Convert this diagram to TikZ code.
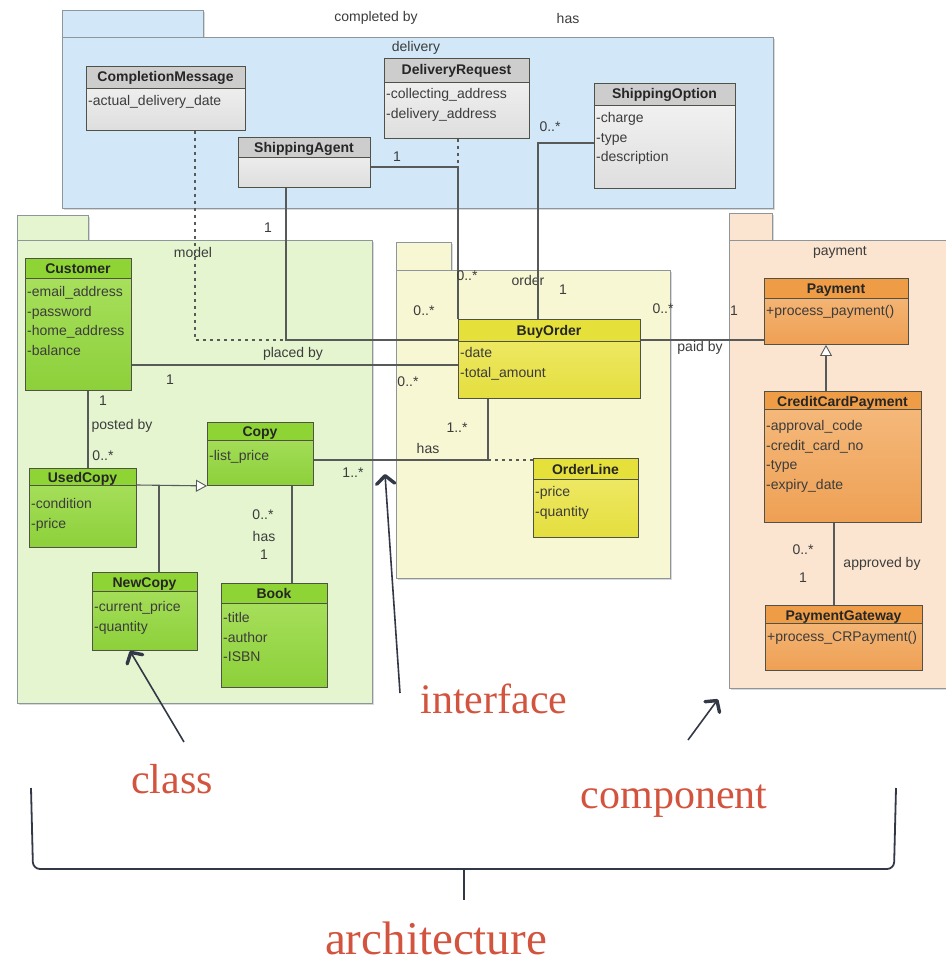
\documentclass[tikz,border=0pt]{standalone}
\usepackage{fontspec}
\setmainfont{Liberation Sans}
\newfontfamily\notefont{Liberation Serif}
\usetikzlibrary{arrows.meta,shadows}

\definecolor{pkgblue}{RGB}{210,232,248}
\definecolor{pkggreen}{RGB}{228,245,208}
\definecolor{pkgyellow}{RGB}{248,247,212}
\definecolor{pkgorange}{RGB}{251,229,208}
\definecolor{pkgline}{RGB}{140,150,155}
\definecolor{clsline}{RGB}{80,82,72}
\definecolor{greytop}{RGB}{246,246,246}
\definecolor{greybot}{RGB}{222,222,222}
\definecolor{greyhead}{RGB}{205,205,205}
\definecolor{greentop}{RGB}{172,226,98}
\definecolor{greenbot}{RGB}{140,208,58}
\definecolor{greenhead}{RGB}{142,212,52}
\definecolor{yellowtop}{RGB}{241,236,112}
\definecolor{yellowbot}{RGB}{228,222,62}
\definecolor{yellowhead}{RGB}{230,224,58}
\definecolor{orangetop}{RGB}{246,188,128}
\definecolor{orangebot}{RGB}{238,160,84}
\definecolor{orangehead}{RGB}{238,156,70}
\definecolor{linegrey}{RGB}{88,90,90}
\definecolor{txtgrey}{RGB}{60,60,60}
\definecolor{navy}{RGB}{50,56,70}
\definecolor{notered}{RGB}{211,84,62}

\tikzset{
  pkg/.style={draw=pkgline, line width=1.2pt, fill=#1, anchor=north west, inner sep=0pt,
    drop shadow={shadow xshift=1.5pt, shadow yshift=-1.5pt, opacity=0.3}},
  cls/.style n args={4}{draw=clsline, line width=0.9pt, anchor=north west, inner sep=0pt,
    top color=#1, bottom color=#2,
    path picture={\fill[#3] (path picture bounding box.north west) rectangle ([yshift=-#4]path picture bounding box.north east);
      \draw[clsline, line width=0.9pt] ([yshift=-#4]path picture bounding box.north west) -- ([yshift=-#4]path picture bounding box.north east);}},
  greycls/.style={cls={greytop}{greybot}{greyhead}{#1}},
  greencls/.style={cls={greentop}{greenbot}{greenhead}{#1}},
  yellowcls/.style={cls={yellowtop}{yellowbot}{yellowhead}{#1}},
  orangecls/.style={cls={orangetop}{orangebot}{orangehead}{#1}},
  clstitle/.style={font=\bfseries\fontsize{14}{16}\selectfont, text=black!85, inner sep=0pt, text height=10pt, text depth=0pt},
  attrs/.style={font=\fontsize{14}{19.7}\selectfont, text=txtgrey, align=left, anchor=north west, inner sep=0pt},
  lbl/.style={font=\fontsize{14}{16}\selectfont, text=txtgrey, inner sep=0pt},
  pkgname/.style={lbl},
  assoc/.style={draw=linegrey, line width=1.1pt},
  assocdash/.style={assoc, dash pattern=on 3pt off 4pt},
  inherit/.style={assoc, -{Triangle[length=11pt, width=12pt, fill=white, line width=0.9pt]}},
  pointer/.style={draw=navy, line width=1.6pt, -{Straight Barb[length=8pt, width=18pt, line width=3.4pt, round]}},
  bracket/.style={draw=navy, line width=1.8pt, rounded corners=7pt},
  note/.style={font=\notefont\fontsize{42}{42}\selectfont, text=notered, anchor=base, inner sep=0pt},
}

\begin{document}
\begin{tikzpicture}[x=1pt,y=1pt,yscale=-1]
\useasboundingbox (0,0) rectangle (945,963);

%Shape: Package delivery
\node [pkg=pkgblue, minimum width=141pt, minimum height=27pt] (deliverytab) at (62,10) {};
\node [pkg=pkgblue, minimum width=711pt, minimum height=171pt] (delivery) at (62,37) {};
%Shape: Package model
\node [pkg=pkggreen, minimum width=71pt, minimum height=25pt] (modeltab) at (17,215) {};
\node [pkg=pkggreen, minimum width=355pt, minimum height=463pt] (model) at (17,240) {};
%Shape: Package order
\node [pkg=pkgyellow, minimum width=55pt, minimum height=28pt] (ordertab) at (396,242) {};
\node [pkg=pkgyellow, minimum width=274pt, minimum height=308pt] (order) at (396,270) {};
%Shape: Package payment
\node [pkg=pkgorange, minimum width=43pt, minimum height=27pt] (paymenttab) at (729,213) {};
\node [pkg=pkgorange, minimum width=225pt, minimum height=448pt] (paymentpkg) at (729,240) {};

% Text Node
\node [pkgname] (deliveryname) at (416,48) {delivery};
\node [pkgname] (modelname) at (193,252) {model};
\node [pkgname] (ordername) at (528,280) {order};
\node [pkgname] (paymentname) at (840,252) {payment};

%Shape: Class boxes
\node [greycls=22pt, minimum width=159pt, minimum height=64pt] (compmsg) at (86,66) {};
\node [greycls=20pt, minimum width=132pt, minimum height=50pt] (agent) at (238,137) {};
\node [greycls=24pt, minimum width=145pt, minimum height=80pt] (delreq) at (384,58) {};
\node [greycls=22pt, minimum width=141pt, minimum height=105pt] (shipopt) at (594,83) {};
\node [greencls=20pt, minimum width=106pt, minimum height=132pt] (customer) at (25,258) {};
\node [greencls=18pt, minimum width=106pt, minimum height=63pt] (copy) at (207,422) {};
\node [greencls=17pt, minimum width=107pt, minimum height=79pt] (usedcopy) at (29,468) {};
\node [greencls=19pt, minimum width=105pt, minimum height=78pt] (newcopy) at (92,572) {};
\node [greencls=20pt, minimum width=106pt, minimum height=104pt] (book) at (221,583) {};
\node [yellowcls=22pt, minimum width=182pt, minimum height=79pt] (buyorder) at (458,319) {};
\node [yellowcls=21pt, minimum width=105pt, minimum height=79pt] (orderline) at (533,458) {};
\node [orangecls=20pt, minimum width=144pt, minimum height=66pt] (payment) at (764,278) {};
\node [orangecls=18pt, minimum width=157pt, minimum height=131pt] (ccpay) at (764,391) {};
\node [orangecls=18pt, minimum width=157pt, minimum height=65pt] (gateway) at (765,605) {};

% Text Node: class names
\node [clstitle] (compmsg-name) at (165.5,77) {CompletionMessage};
\node [clstitle] (agent-name) at (304,147) {ShippingAgent};
\node [clstitle] (delreq-name) at (456.5,70) {DeliveryRequest};
\node [clstitle] (shipopt-name) at (664.5,94) {ShippingOption};
\node [clstitle] (customer-name) at (78,268) {Customer};
\node [clstitle] (copy-name) at (260,431) {Copy};
\node [clstitle] (usedcopy-name) at (82.5,477) {UsedCopy};
\node [clstitle] (newcopy-name) at (144.5,582) {NewCopy};
\node [clstitle] (book-name) at (274,593) {Book};
\node [clstitle] (buyorder-name) at (549,330) {BuyOrder};
\node [clstitle] (orderline-name) at (585.5,469) {OrderLine};
\node [clstitle] (payment-name) at (836,288) {Payment};
\node [clstitle] (ccpay-name) at (842.5,401) {CreditCardPayment};
\node [clstitle] (gateway-name) at (843.5,615) {PaymentGateway};

% Text Node: attributes
\node [attrs] (compmsg-attr) at (88,95) {-actual\_delivery\_date};
\node [attrs] (delreq-attr) at (386,88) {-collecting\_address\\-delivery\_address};
\node [attrs] (shipopt-attr) at (596,112) {-charge\\-type\\-description};
\node [attrs] (customer-attr) at (27,286) {-email\_address\\-password\\-home\_address\\-balance};
\node [attrs] (copy-attr) at (209,450) {-list\_price};
\node [attrs] (usedcopy-attr) at (31,498) {-condition\\-price};
\node [attrs] (newcopy-attr) at (94,601) {-current\_price\\-quantity};
\node [attrs] (book-attr) at (223,612) {-title\\-author\\-ISBN};
\node [attrs] (buyorder-attr) at (460,347) {-date\\-total\_amount};
\node [attrs] (orderline-attr) at (535,486) {-price\\-quantity};
\node [attrs] (payment-attr) at (766,305) {+process\_payment()};
\node [attrs] (ccpay-attr) at (766,420) {-approval\_code\\-credit\_card\_no\\-type\\-expiry\_date};
\node [attrs] (gateway-attr) at (767,631) {+process\_CRPayment()};

%Straight Lines: associations
\coordinate (agentbend) at (286,340);
\draw [assoc] (agent.south -| agentbend) |- (buyorder.west |- agentbend);
\draw [assocdash] (compmsg.south -| 195,0) |- (agentbend);
\coordinate (reqjoin) at (458,167);
\draw [assoc] (agent.east |- reqjoin) -| (buyorder.north west);
\draw [assocdash] (delreq.south -| reqjoin) -- (reqjoin);
\coordinate (optbend) at (538,143);
\draw [assoc] (shipopt.west |- optbend) -| (buyorder.north -| optbend);
\coordinate (placedy) at (0,365);
\draw [assoc] (customer.east |- placedy) -- (buyorder.west |- placedy);
\draw [assoc] (customer.south -| 88,0) -- (usedcopy.north -| 88,0);
\coordinate (genjoin) at (159,485);
\draw [inherit] (usedcopy.east |- genjoin) -- (copy.south west);
\draw [assoc] (newcopy.north -| genjoin) -- (genjoin);
\draw [assoc] (copy.south -| 292,0) -- (book.north -| 292,0);
\coordinate (linejoin) at (488,460);
\draw [assoc] (copy.east |- linejoin) -| (buyorder.south -| linejoin);
\draw [assocdash] (linejoin) -- (orderline.west |- linejoin);
\coordinate (paidy) at (0,340);
\draw [assoc] (buyorder.east |- paidy) -- (payment.west |- paidy);
\draw [inherit] (ccpay.north -| 826,0) -- (payment.south -| 826,0);
\draw [assoc] (ccpay.south -| 834,0) -- (gateway.north -| 834,0);

% Text Node: roles and multiplicities
\node [lbl] (completedby) at (376,18) {completed by};
\node [lbl] (hasoption) at (568,18) {has};
\node [lbl] (agentone) at (397,157) {1};
\node [lbl] (optmany) at (550,127) {0..*};
\node [lbl] (agentonebis) at (268,228) {1};
\node [lbl] (reqmany) at (467,276) {0..*};
\node [lbl] (optone) at (563,290) {1};
\node [lbl] (agentmany) at (424,311) {0..*};
\node [lbl] (paymany) at (663,309) {0..*};
\node [lbl] (payone) at (734,311) {1};
\node [lbl] (placedby) at (293,354) {placed by};
\node [lbl] (paidby) at (700,348) {paid by};
\node [lbl] (custone) at (170,380) {1};
\node [lbl] (custmany) at (408,382) {0..*};
\node [lbl] (postone) at (103,401) {1};
\node [lbl] (postedby) at (122,426) {posted by};
\node [lbl] (postmany) at (103,456) {0..*};
\node [lbl] (linemany) at (457,428) {1..*};
\node [lbl] (hasline) at (428,448) {has};
\node [lbl] (copymany) at (353,473) {1..*};
\node [lbl] (bookmany) at (263,515) {0..*};
\node [lbl] (hasbook) at (264,536) {has};
\node [lbl] (bookone) at (264,555) {1};
\node [lbl] (approvemany) at (803,550) {0..*};
\node [lbl] (approveone) at (803,578) {1};
\node [lbl] (approvedby) at (882,564) {approved by};

% Text Node: notes
\node [note] (classlbl) at (172,793) {class};
\node [note] (interfacelbl) at (494,713) {interface};
\node [note] (componentlbl) at (674,808) {component};
\node [note, font=\notefont\fontsize{47}{47}\selectfont] (archlbl) at (436,954) {architecture};

%Arrows: notes
\coordinate (classtail) at (184,742);
\draw [pointer] (classtail) -- ([xshift=-15pt]newcopy.south);
\coordinate (ifacetail) at (400,693);
\coordinate (ifacetip) at (385,474);
\draw [pointer] (ifacetail) -- (ifacetip);
\coordinate (comptail) at (688,740);
\draw [pointer] (comptail) -- ([xshift=-11pt,yshift=10pt]paymentpkg.south west);

%Shape: brace
\draw [bracket] (31,788) -- (33,869) -- (894,869) -- (896,788);
\coordinate (bracemid) at (464,869);
\draw [bracket] (bracemid) -- (464,900);

\end{tikzpicture}
\end{document}
